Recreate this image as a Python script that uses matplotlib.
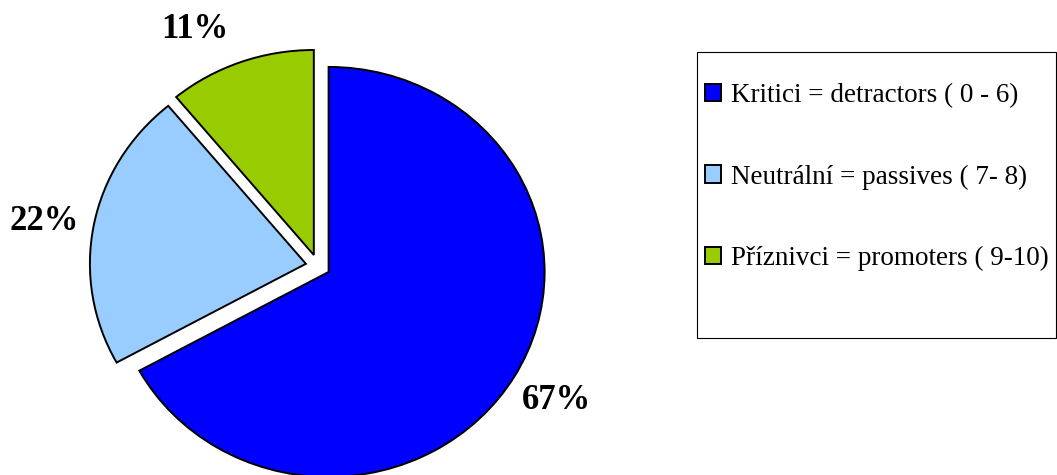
import numpy as np
import matplotlib
matplotlib.use('Agg')
import matplotlib.pyplot as plt
from matplotlib.patches import Rectangle

# data
labels = ['Kritici = detractors ( 0 - 6)',
          'Neutrální = passives ( 7- 8)',
          'Příznivci = promoters ( 9-10)']
shares = [67, 22, 11]
colors = ['#0000FF', '#99CCFF', '#99CC00']
label_nudge = [0, 1, 6.5]   # degrees, label placement tweak

plt.rcParams['font.family'] = ['Liberation Serif', 'DejaVu Serif']

W, H = 1057, 475
fig = plt.figure(figsize=(W / 100, H / 100), dpi=100)

# pie axes, sized in pixels (slightly wider than tall like the original)
cx, cy = 318, 266          # pie centre, pixels from top-left
rx, ry = 216, 205          # radius in pixels
span = 1.5
ax = fig.add_axes([(cx - span * rx) / W, (H - cy - span * ry) / H,
                   2 * span * rx / W, 2 * span * ry / H])

explode = [0.057] * len(shares)
wedges, _ = ax.pie(shares, colors=colors, explode=explode, startangle=90,
                   counterclock=False, radius=1.0,
                   wedgeprops=dict(edgecolor='black', linewidth=1.4))
ax.set_xlim(-span, span)
ax.set_ylim(-span, span)
ax.set_aspect('auto')
ax.axis('off')

# percentage labels outside the slices
total = float(sum(shares))
start = 90.0
for v, nudge in zip(shares, label_nudge):
    sweep = 360.0 * v / total
    mid = np.deg2rad(start - sweep / 2 + nudge)
    ax.text(1.285 * np.cos(mid), 1.285 * np.sin(mid), f'{v / total * 100:.0f}%',
            ha='center', va='center', fontsize=25, fontweight='bold')
    start -= sweep

# legend box
box = Rectangle((697 / W, 1 - 338 / H), (W - 1 - 697) / W, (338 - 52) / H,
                transform=fig.transFigure, fill=False, edgecolor='black',
                linewidth=0.8)
fig.patches.append(box)

fig.legend(wedges, labels, loc='center left',
           bbox_to_anchor=(705 / W, 1 - 177 / H), frameon=False,
           fontsize=19.5, handlelength=0.6, handleheight=0.6,
           handletextpad=0.35, labelspacing=2.09, borderaxespad=0.0,
           borderpad=0.0)

fig.savefig('out.png', dpi=100)
